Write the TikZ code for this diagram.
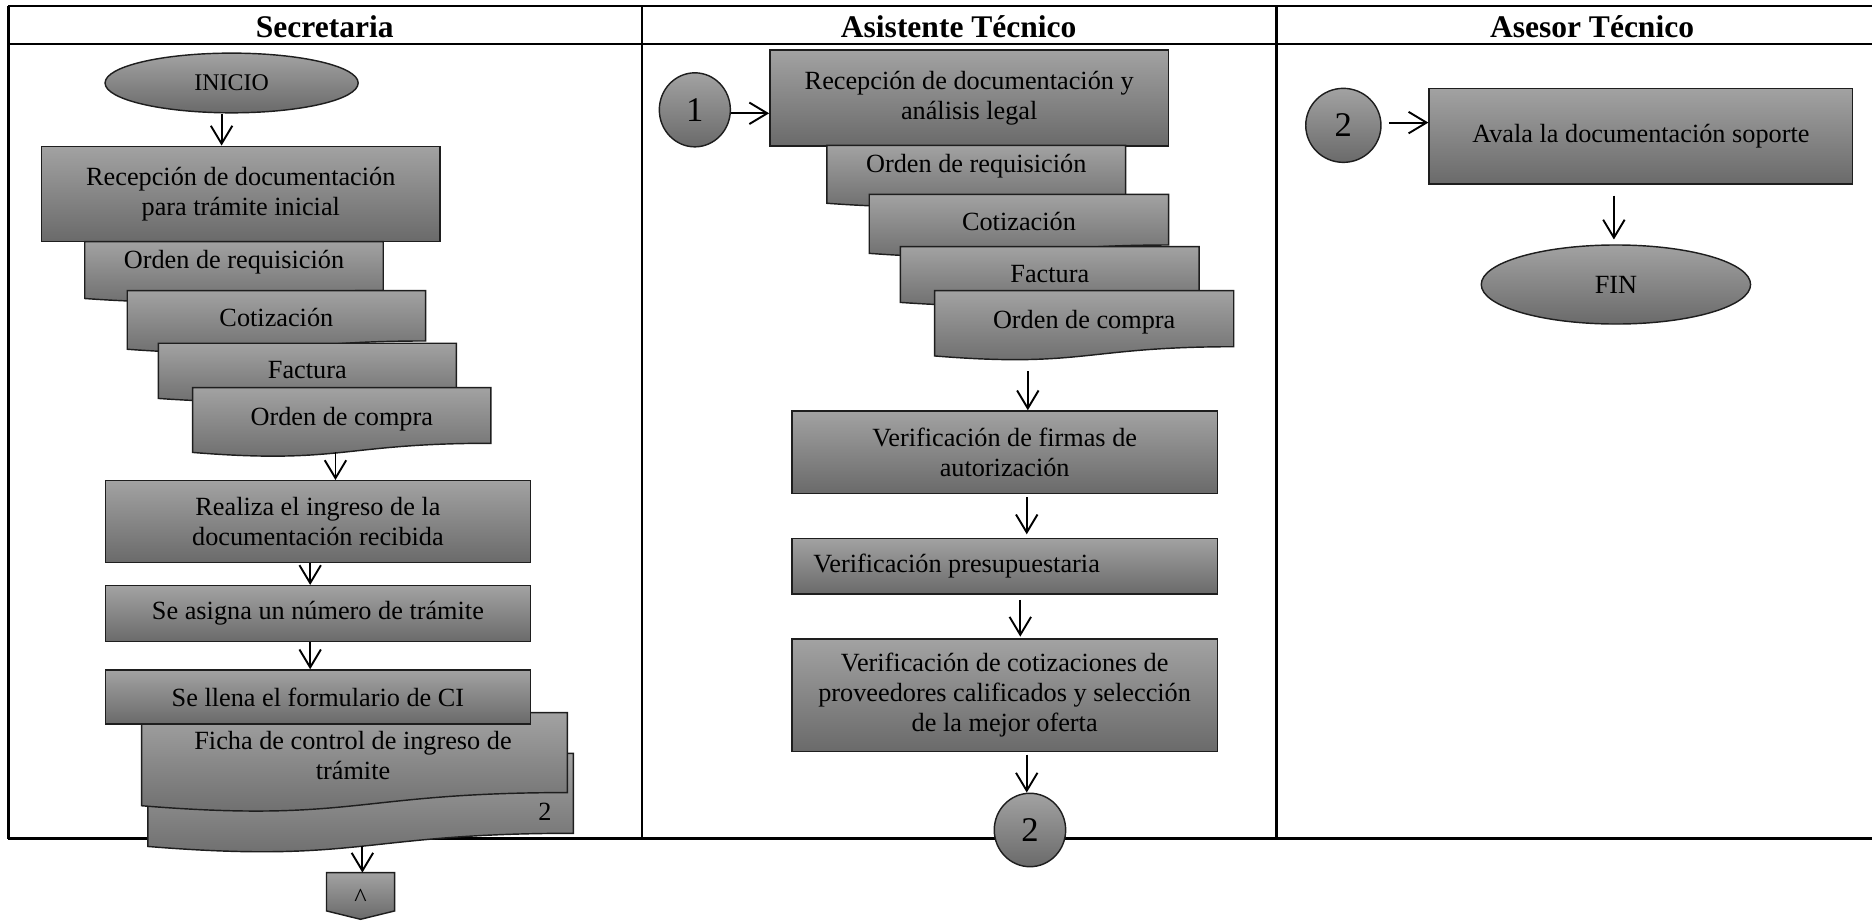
\documentclass[tikz,border=0pt]{standalone}
\usepackage{fontspec}
\setmainfont{Liberation Serif}
\usetikzlibrary{arrows.meta,shapes.geometric,calc}
\definecolor{gtop}{RGB}{162,162,162}
\definecolor{gbot}{RGB}{106,106,106}
\definecolor{edgec}{RGB}{30,30,30}
\tikzset{
  shp/.style={draw=edgec, line width=0.6pt, top color=gtop, bottom color=gbot},
  box/.style={shp, rectangle, inner sep=0pt, align=center, font=\fontsize{11}{12.6}\selectfont},
  txt/.style={inner sep=0pt, align=center, font=\fontsize{11}{12.6}\selectfont},
  ell/.style={shp, ellipse, inner sep=0pt},
  num/.style={font=\fontsize{14.5}{16}\selectfont},
  arr/.style={line width=0.8pt, -{Straight Barb[length=7.5pt,width=9pt]}},
  framel/.style={line width=1.1pt},
  hdr/.style={inner sep=0pt, font=\fontsize{13.2}{15}\selectfont\bfseries},
}
\newcommand{\docpath}[5]{%
  \path[shp] (#1,#3) -- (#2,#3) -- (#2,{#3+0.802*#4})
    .. controls ({(#1+#2)/2},{#3+0.802*#4}) and ({(#1+#2)/2},{#3+1.1075*#4}) .. (#1,{#3+0.934*#4}) -- cycle;
  \coordinate (#5-b) at ({(#1+#2)/2},{#3+0.933*#4});
}
\begin{document}
\begin{tikzpicture}[x=0.5pt,y=-0.5pt]
\useasboundingbox (0,0) rectangle (1568,771);
% frame
\draw[framel] (7,5) -- (1568,5);
\draw[framel] (7,37) -- (1568,37);
\draw[framel] (7,702.5) -- (1568,702.5);
\draw[framel] (7,5) -- (7,702.5);
\draw[framel] (537.7,5) -- (537.7,702.5);
\draw[framel] (1069,5) -- (1069,702.5);
\node[hdr] (h1) at (272,22) {Secretaria};
\node[hdr] (h2) at (803,22) {Asistente Técnico};
\node[hdr] (h3) at (1333.5,22) {Asesor Técnico};

% ---- Secretaria
\node[ell, minimum width=106pt, minimum height=25pt, font=\fontsize{10}{12}\selectfont] (ini) at (194,69.5) {INICIO};
\node[box, minimum width=166.8pt, minimum height=39.8pt] (b1) at (201.7,162.3) {Recepción de documentación\\para trámite inicial};
\docpath{71}{321}{202.4}{51}{sd1}
\node[txt] (st1) at (196,219.5) {Orden de requisición};
\docpath{106.6}{356.5}{243.5}{52.5}{sd2}
\node[txt] (st2) at (231.5,266) {Cotización};
\docpath{132.6}{382.2}{287.5}{49.5}{sd3}
\node[txt] (st3) at (257.4,310.3) {Factura};
\docpath{161.4}{411.2}{324.7}{58.1}{sd4}
\node[txt] (st4) at (286.3,351.4) {Orden de compra};
\node[box, minimum width=178.1pt, minimum height=34.35pt] (b2) at (266.3,437) {Realiza el ingreso de la\\documentación recibida};
\node[box, minimum width=178.1pt, minimum height=23.45pt] (b3) at (266.3,514) {Se asigna un número de trámite};
\docpath{123.8}{480.3}{631}{83.5}{fb}
\node[txt] (fb2) at (456.4,679.8) {2};
\docpath{118.6}{475.2}{596.9}{83.5}{ff}
\node[txt] (fft) at (295.7,632.5) {Ficha de control de ingreso de\\trámite};
\node[box, minimum width=178.1pt, minimum height=22.65pt] (b4) at (266.3,583.8) {Se llena el formulario de CI};
\path[shp] (273.5,730.9) -- (330.6,730.9) -- (330.6,763) -- (302,770) -- (273.5,763) -- cycle;
\coordinate (opT) at (302,730.9);
\node[txt] (op) at (302,752) {\textasciicircum};

\draw[arr] ([xshift=-4.2pt]ini.south) -- ([xshift=-4.2pt]ini.south |- b1.north);
\draw[arr] ([xshift=-2.65pt]sd4-b) -- ([xshift=-2.65pt]sd4-b |- b2.north);
\draw[arr] ([xshift=-3.25pt]b2.south) -- ([xshift=-3.25pt]b3.north);
\draw[arr] ([xshift=-3.25pt]b3.south) -- ([xshift=-3.25pt]b4.north);
\draw[arr] ([xshift=0.75pt]fb-b) -- ([xshift=0.75pt]fb-b |- opT);

% ---- Asistente Tecnico
\node[ell, num, minimum width=29.75pt, minimum height=31pt] (c1) at (582,92) {1};
\node[box, minimum width=167pt, minimum height=40.2pt] (a1) at (811.8,82) {Recepción de documentación y\\análisis legal};
\docpath{692.6}{942.8}{121.7}{52}{ad1}
\node[txt] (at1) at (817.7,139) {Orden de requisición};
\docpath{728.1}{978.8}{162.8}{52.9}{ad2}
\node[txt] (at2) at (853.5,185.5) {Cotización};
\docpath{754.1}{1004.4}{206.6}{50}{ad3}
\node[txt] (at3) at (879.3,229.5) {Factura};
\docpath{782.8}{1033.4}{243.5}{58.5}{ad4}
\node[txt] (at4) at (908.1,270) {Orden de compra};
\node[box, minimum width=178.3pt, minimum height=34.5pt] (a2) at (841.5,378.7) {Verificación de firmas de\\autorización};
\node[box, minimum width=178.3pt, minimum height=23.3pt, align=flush left, text width=160.3pt, inner xsep=9pt] (a3) at (841.5,474.2) {Verificación presupuestaria};
\node[box, minimum width=178.3pt, minimum height=47.15pt] (a4) at (841.5,582.4) {Verificación de cotizaciones de\\proveedores calificados y selección\\de la mejor oferta};
\node[ell, num, minimum width=29.9pt, minimum height=30.75pt] (c2a) at (862.7,695.2) {2};

\draw[arr] ([yshift=-1.45pt]c1.east) -- ([yshift=-1.45pt]c1.east -| a1.west);
\draw[arr] ([xshift=-23.6pt,yshift=-6.5pt]ad4-b) -- ([xshift=-23.6pt]ad4-b |- a2.north);
\draw[arr, shorten <=1.4pt, shorten >=1.4pt] ([xshift=9.25pt]a2.south) -- ([xshift=9.25pt]a2.south |- a3.north);
\draw[arr, shorten <=2.2pt, shorten >=0.7pt] ([xshift=6.55pt]a3.south) -- ([xshift=6.55pt]a3.south |- a4.north);
\draw[arr, shorten <=1pt] ([xshift=9.25pt]a4.south) -- ([xshift=9.25pt]a4.south |- c2a.north);

% ---- Asesor Tecnico
\node[ell, num, minimum width=31.5pt, minimum height=31pt] (c2b) at (1125.2,105) {2};
\node[box, minimum width=177.4pt, minimum height=40.05pt] (cc1) at (1374.4,114) {Avala la documentación soporte};
\node[ell, minimum width=112.8pt, minimum height=33.1pt, font=\fontsize{11}{13}\selectfont] (fin) at (1353.5,238.3) {FIN};
\draw[arr, shorten <=3pt] ([yshift=1.15pt]c2b.east) -- ([yshift=1.15pt]c2b.east -| cc1.west);
\draw[arr, shorten <=4.6pt, shorten >=2pt] ([xshift=-11.3pt]cc1.south) -- ([xshift=-11.3pt]cc1.south |- fin.north);
\end{tikzpicture}
\end{document}
